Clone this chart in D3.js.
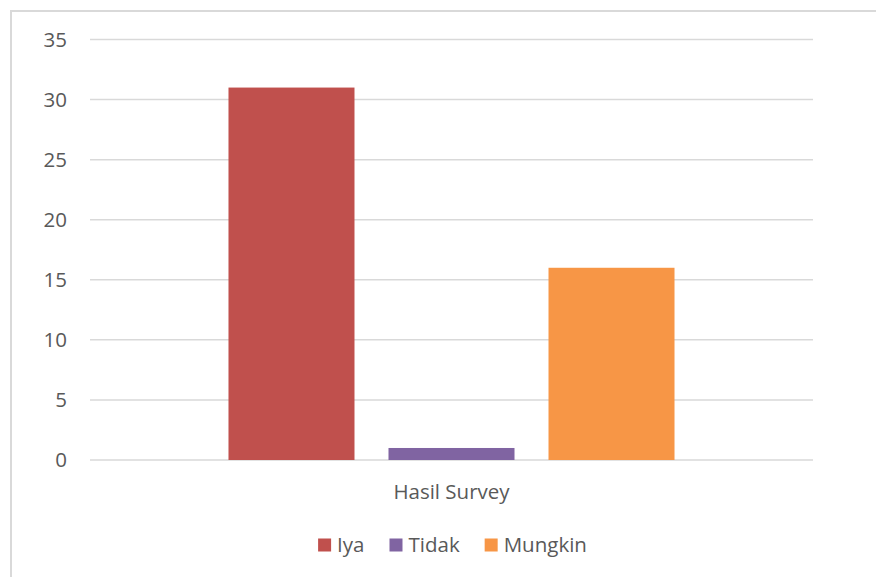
<!DOCTYPE html>
<html>
<head>
<meta charset="utf-8">
<script src="https://cdn.jsdelivr.net/npm/d3@7"></script>
<style>
  body { margin: 0; background: #fff; }
  text { font-family: "Open Sans", "DejaVu Sans", sans-serif; fill: #595959; }
</style>
</head>
<body>
<svg id="chart" width="876" height="577"></svg>
<script>
// data
const categories = ["Hasil Survey"]
const seriesNames = ["Iya", "Tidak", "Mungkin"]
const seriesValues = [31, 1, 16]
const seriesColors = ["#C0504D", "#8064A2", "#F79646"]
const yTicks = [0, 5, 10, 15, 20, 25, 30, 35]

const width = 876, height = 577
const margin = {top: 39.5, right: 63, bottom: 117, left: 90}
const fontSize = 20.5

const svg = d3.select("#chart")

// chart area frame (runs off the right and bottom of the picture)
svg.append("rect")
    .attr("x", 11).attr("y", 11)
    .attr("width", width + 20).attr("height", height + 20)
    .attr("fill", "none")
    .attr("stroke", "#d9d9d9")
    .attr("stroke-width", 2)

let y = d3.scaleLinear()
    .domain([0, 35])
    .range([height - margin.bottom, margin.top])

let x0 = d3.scaleBand()
    .domain(categories)
    .range([margin.left, width - margin.right])
    .paddingInner(0)
    .paddingOuter(0.3105)

let x1 = d3.scaleBand()
    .domain(seriesNames)
    .range([0, x0.bandwidth()])
    .paddingInner(0.2125)
    .paddingOuter(0)

// gridlines
svg.append("g")
    .selectAll("line")
    .data(yTicks)
    .join("line")
    .attr("x1", margin.left)
    .attr("x2", width - margin.right)
    .attr("y1", d => y(d))
    .attr("y2", d => y(d))
    .attr("stroke", "#d9d9d9")
    .attr("stroke-width", 1.5)

// y tick labels
svg.append("g")
    .selectAll("text")
    .data(yTicks)
    .join("text")
    .attr("x", 67)
    .attr("y", d => y(d))
    .attr("dy", "0.35em")
    .attr("text-anchor", "end")
    .attr("font-size", fontSize)
    .text(d => d)

// bars
let group = svg.append("g")
    .selectAll("g")
    .data(categories)
    .join("g")
    .attr("transform", d => `translate(${x0(d)},0)`)

group.selectAll("rect")
    .data(seriesNames.map((name, i) => ({name: name, value: seriesValues[i], color: seriesColors[i]})))
    .join("rect")
    .attr("x", d => x1(d.name))
    .attr("y", d => y(d.value))
    .attr("width", x1.bandwidth())
    .attr("height", d => y(0) - y(d.value))
    .attr("fill", d => d.color)

// category label
svg.append("g")
    .selectAll("text")
    .data(categories)
    .join("text")
    .attr("x", d => x0(d) + x0.bandwidth() / 2)
    .attr("y", 492)
    .attr("dy", "0.35em")
    .attr("text-anchor", "middle")
    .attr("font-size", fontSize)
    .text(d => d)

// legend, laid out from measured text widths and centred
let legend = svg.append("g")
let items = legend.selectAll("g")
    .data(seriesNames)
    .join("g")
items.append("rect")
    .attr("width", 13).attr("height", 13)
    .attr("y", -6.5)
    .attr("fill", (d, i) => seriesColors[i])
items.append("text")
    .attr("x", 19)
    .attr("dy", "0.35em")
    .attr("font-size", fontSize)
    .text(d => d)

let offset = 0
items.each(function () {
    let w = 19 + this.querySelector("text").getComputedTextLength()
    d3.select(this).attr("transform", `translate(${offset},0)`)
    offset += w + 25
})
let total = offset - 25
legend.attr("transform", `translate(${(margin.left + width - margin.right) / 2 - total / 2 + 1},545)`)
</script>
</body>
</html>
